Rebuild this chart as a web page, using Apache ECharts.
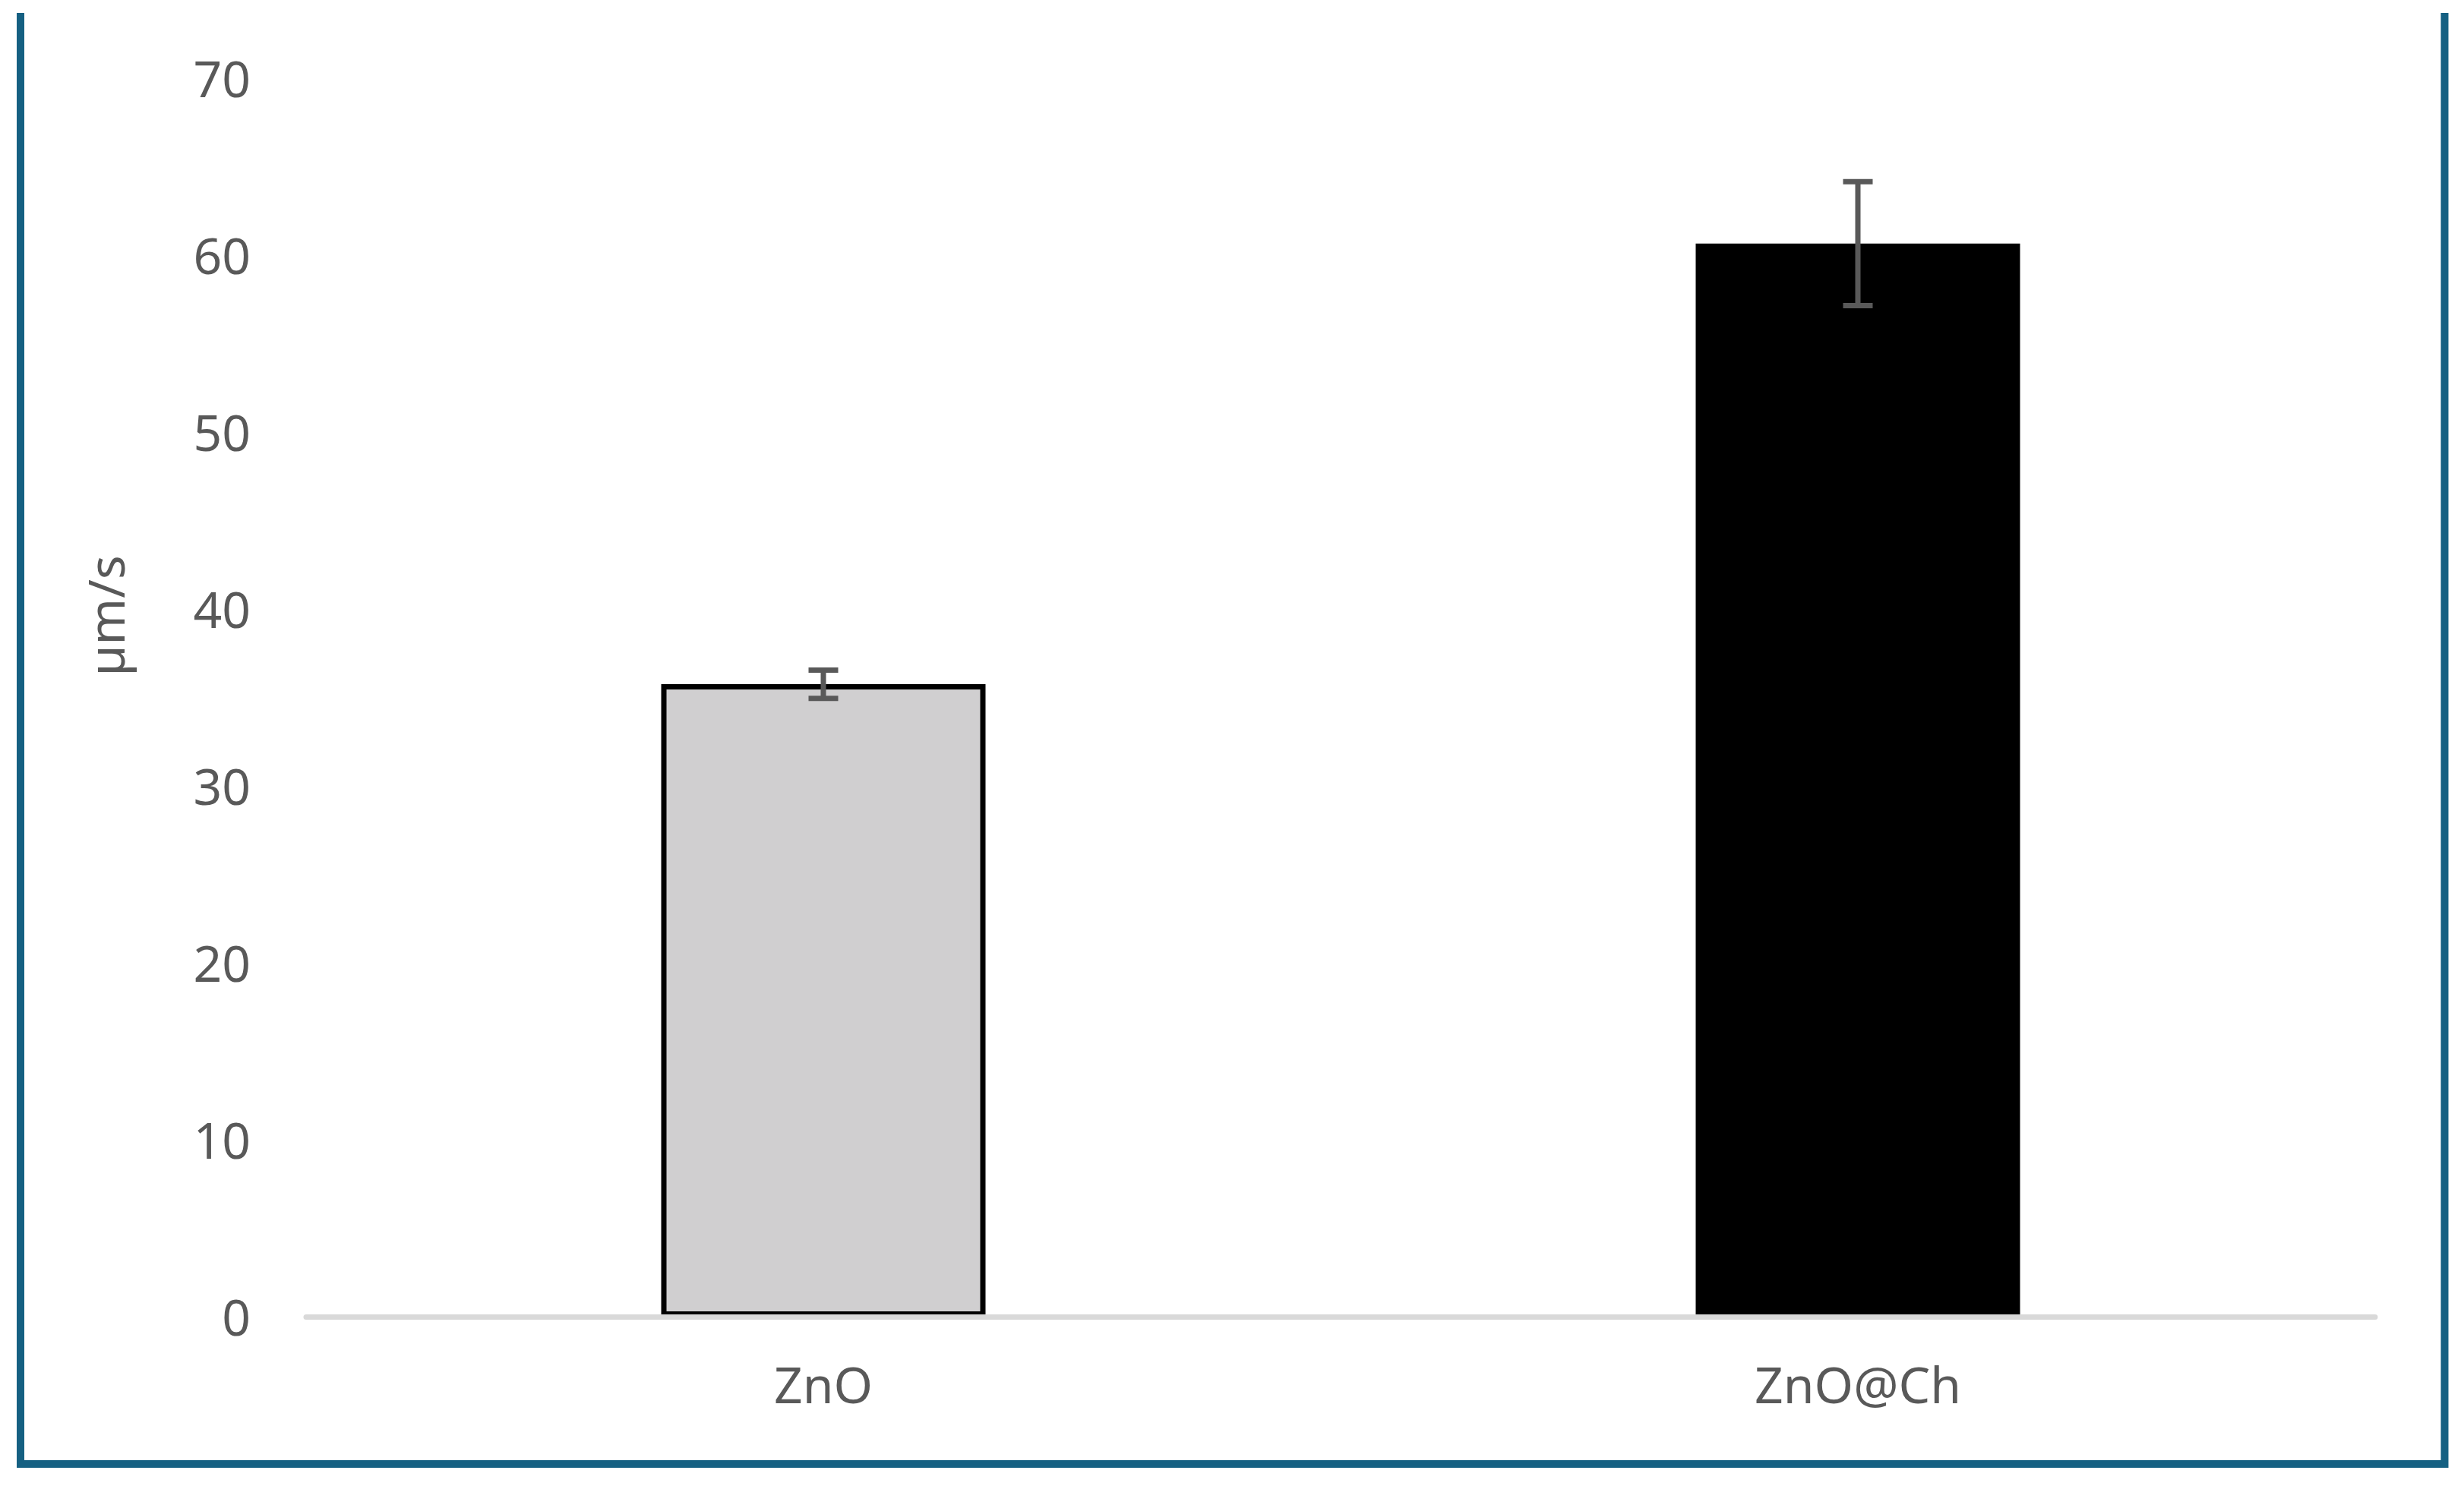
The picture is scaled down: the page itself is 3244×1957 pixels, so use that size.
<!DOCTYPE html>
<html>
<head>
<meta charset="utf-8">
<script src="https://cdn.jsdelivr.net/npm/echarts@6/dist/echarts.min.js"></script>
<style>
html,body{margin:0;padding:0;background:#fff;}
#chart{width:3244px;height:1957px;}
</style>
</head>
<body>
<div id="chart"></div>
<script>
const categories = ['ZnO', 'ZnO@Ch'];
const values = [35.75, 60.65];
const errors = [0.8, 3.5];
const barColors = ['#d0cfd0', '#000000'];
const yTicks = [0, 10, 20, 30, 40, 50, 60, 70];
const yAxisTitle = 'µm/s';

const FONT = 'Noto Sans';
const TXT = '#595959';

const chart = echarts.init(document.getElementById('chart'), null, {renderer: 'canvas'});

const option = {
  backgroundColor: '#ffffff',
  animation: false,
  grid: {left: 403, right: 117, top: 103, bottom: 223, containLabel: false},
  xAxis: {
    type: 'category',
    data: categories,
    z: 5,
    axisLine: {show: true, lineStyle: {color: '#d9d9d9', width: 7}},
    axisTick: {show: false},
    axisLabel: {color: TXT, fontFamily: FONT, fontSize: 66, margin: 62}
  },
  yAxis: {
    type: 'value',
    min: yTicks[0],
    max: yTicks[yTicks.length - 1],
    interval: 10,
    axisLine: {show: false},
    axisTick: {show: false},
    splitLine: {show: false},
    axisLabel: {
      color: TXT, fontFamily: FONT, fontSize: 66, margin: 73,
      formatter: '{a|{value}}',
      rich: {a: {color: TXT, fontFamily: FONT, fontSize: 66, padding: [12, 0, 0, 0]}}
    }
  },
  graphic: [
    {
      type: 'polyline',
      shape: {points: [[27, 17], [27, 1928], [3218.5, 1928], [3218.5, 17]]},
      style: {stroke: '#156082', lineWidth: 10, fill: null, lineJoin: 'miter'},
      z: 10
    },
    {
      type: 'text',
      x: 145,
      y: 811,
      rotation: Math.PI / 2,
      style: {text: yAxisTitle, fill: TXT, font: '66px "Noto Sans"', textAlign: 'center', textVerticalAlign: 'middle'}
    }
  ],
  series: [
    {
      type: 'bar',
      barWidth: 427,
      data: values.map((v, i) => ({
        value: v,
        itemStyle: {color: barColors[i], borderColor: '#000000', borderWidth: 7}
      })),
      z: 2
    },
    {
      type: 'custom',
      z: 6,
      data: values.map((v, i) => [i, v, errors[i]]),
      renderItem: function (params, api) {
        const i = api.value(0);
        const v = api.value(1);
        const e = api.value(2);
        const top = api.coord([i, v + e]);
        const bot = api.coord([i, v - e]);
        const half = 19.5;
        const st = {stroke: '#595959', lineWidth: 7};
        return {
          type: 'group',
          children: [
            {type: 'line', shape: {x1: top[0], y1: top[1], x2: bot[0], y2: bot[1]}, style: st},
            {type: 'line', shape: {x1: top[0] - half, y1: top[1], x2: top[0] + half, y2: top[1]}, style: st},
            {type: 'line', shape: {x1: bot[0] - half, y1: bot[1], x2: bot[0] + half, y2: bot[1]}, style: st}
          ]
        };
      }
    }
  ]
};
chart.setOption(option);
</script>
</body>
</html>
